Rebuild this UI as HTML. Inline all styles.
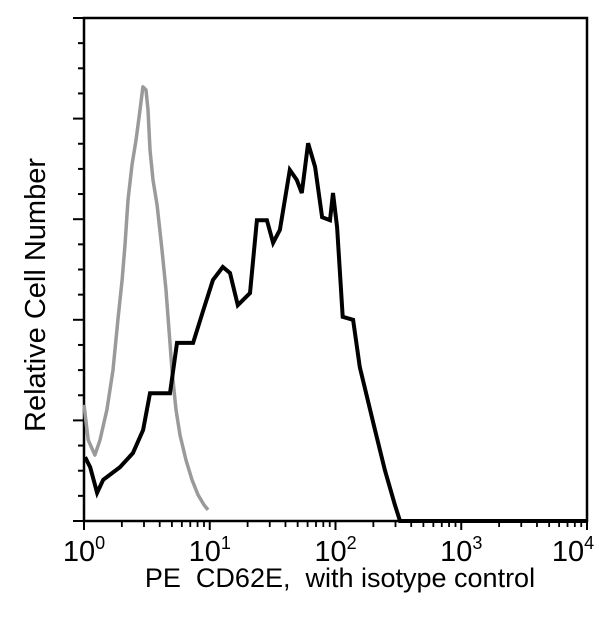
<!DOCTYPE html>
<html><head><meta charset="utf-8"><style>
html,body{margin:0;padding:0;background:#fff}
svg{display:block;font-family:"Liberation Sans",Arial,sans-serif}
text{white-space:pre}
</style></head><body>
<svg id="chart" width="600" height="618" viewBox="0 0 600 618">
<g id="plot"></g>
</svg>
<script>
const grayX=[1.00,1.08,1.22,1.34,1.52,1.70,1.86,2.01,2.12,2.24,2.41,2.59,2.79,2.94,3.11,3.23,3.35,3.54,3.81,4.17,4.49,4.74,5.01,5.39,5.80,6.47,7.22,8.07,9.00,9.68];
const grayY=[23.1,16.1,13.1,16.1,22.1,30.0,40.0,47.9,54.9,63.8,70.8,75.7,81.7,86.3,85.7,81.7,73.8,67.8,62.8,53.9,45.9,38.0,30.0,22.1,17.1,12.1,8.2,5.2,3.2,2.2];
const blackX=[1.02,1.12,1.27,1.42,1.93,2.45,2.95,3.35,4.83,5.49,7.37,8.88,10.6,12.7,14.5,16.7,20.9,23.7,28.5,31.9,36.1,43.3,49.2,54.0,60.6,68.8,78.2,90.5,95.6,103,114,138,156,206,247,297,326,10000];
const blackY=[12.7,10.7,5.6,8.2,10.7,13.5,18.1,25.4,25.4,35.4,35.4,41.9,47.9,50.5,49.3,42.9,45.3,59.8,59.8,55.3,57.9,69.8,67.8,65.2,75.1,70.4,60.4,59.8,65.2,58.4,40.6,40.0,30.6,18.1,10.1,3.2,0,0];
const decades=[0,1,2,3,4];

const L=84,R=587,T=18,B=521;
const NS='http://www.w3.org/2000/svg';
const g=document.getElementById('plot');
function sx(v){return L+(Math.log10(v)/4)*(R-L);}
function sy(v){return B-(v/100)*(B-T);}
function mk(tag,attrs){const e=document.createElementNS(NS,tag);for(const k in attrs)e.setAttribute(k,attrs[k]);g.appendChild(e);return e;}

const fr=mk('rect',{x:L,y:T,width:R-L,height:B-T,fill:'none',stroke:'#000','stroke-width':2.5});



decades.forEach(d=>{
  const x=sx(Math.pow(10,d));
  const t=mk('line',{x1:x,y1:B,x2:x,y2:B+9,stroke:'#000','stroke-width':2});
  
  
  if(d<4){for(let m=2;m<=9;m++){const xm=sx(m*Math.pow(10,d));
    const tm=mk('line',{x1:xm,y1:B,x2:xm,y2:B+6,stroke:'#000','stroke-width':1.8});
    
    }}
  const tx=mk('text',{x:x-(d===4?14:0),y:561,'text-anchor':'middle','font-size':29,fill:'#000'});
  tx.innerHTML='10<tspan font-size="18" dy="-12">'+d+'</tspan>';
  
  
});
for(let i=0;i<=20;i++){
  const v=i*5,y=sy(v),maj=(i%4===0);
  const t=mk('line',{x1:L,y1:y,x2:L-(maj?11:6),y2:y,stroke:'#000','stroke-width':2});
  
  
}
function path(xs,ys){return xs.map((x,i)=>(i?'L':'M')+sx(x).toFixed(1)+','+sy(ys[i]).toFixed(1)).join(' ');}
const gp=mk('path',{d:path(grayX,grayY),fill:'none',stroke:'#9a9a9a','stroke-width':3.5,'stroke-linejoin':'round'});


const bp=mk('path',{d:path(blackX,blackY),fill:'none',stroke:'#000','stroke-width':4,'stroke-linejoin':'miter'});



const xt=mk('text',{x:340,y:587,'text-anchor':'middle','font-size':27,fill:'#000'});
xt.textContent='PE  CD62E,  with isotype control';


const yt=mk('text',{x:0,y:0,'text-anchor':'middle','font-size':29,fill:'#000',transform:'translate(45,295) rotate(-90)'});
yt.textContent='Relative Cell Number';


</script>
</body></html>
